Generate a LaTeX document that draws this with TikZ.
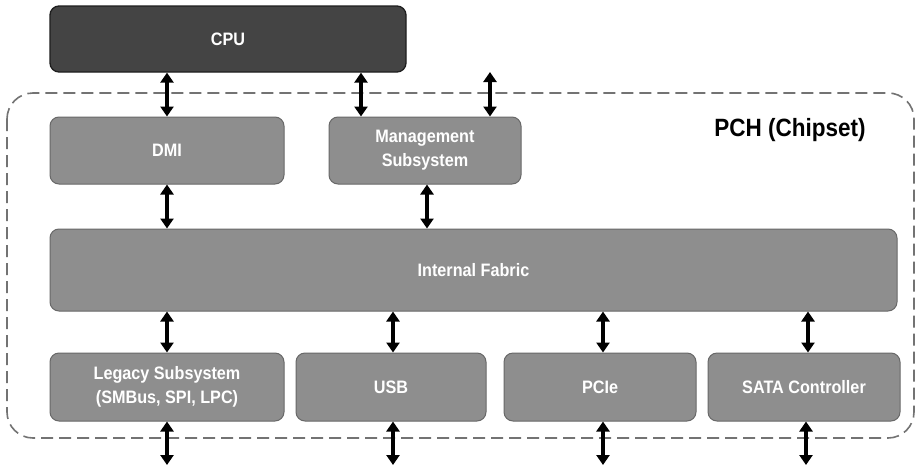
\documentclass[tikz,border=0pt]{standalone}
\usepackage{fontspec}
\setmainfont{Liberation Sans}[FakeStretch=0.9]
\usetikzlibrary{arrows.meta}
\definecolor{cpufill}{HTML}{444444}
\definecolor{cpuline}{HTML}{1E1E1E}
\definecolor{boxfill}{HTML}{8E8E8E}
\definecolor{boxline}{HTML}{686868}
\definecolor{dashcol}{HTML}{737373}
\tikzset{
  blk/.style={draw=boxline, line width=1pt, fill=boxfill, rounded corners=9pt,
    text=white, font=\bfseries\fontsize{18}{24}\selectfont, align=center, inner sep=0pt},
  cpublk/.style={blk, draw=cpuline, fill=cpufill, line width=1.3pt},
  biarrow/.style={line width=3.4pt, {Triangle[width=13pt,length=10pt]}-{Triangle[width=13pt,length=10pt]}},
  pchline/.style={draw=dashcol, line width=1.6pt, dash pattern=on 12pt off 6pt, rounded corners=26pt}
}
\begin{document}
\begin{tikzpicture}[x=1pt,y=-1pt]
\useasboundingbox (0,0) rectangle (920,466);
\fill[white] (0,0) rectangle (920,466);
% PCH boundary
\draw[pchline] (7,93) rectangle (914,438);
\node[font=\bfseries\fontsize{25}{29}\selectfont, anchor=center] (pch) at (790,130) {PCH (Chipset)};
% blocks
\node[cpublk, minimum width=356pt, minimum height=66pt] (cpu) at (228,39) {CPU};
\node[blk, minimum width=234pt, minimum height=67pt] (dmi) at (167,150.5) {DMI};
\node[blk, minimum width=192pt, minimum height=67pt] (mgmt) at (425,150.5) {Management\\Subsystem};
\node[blk, minimum width=847pt, minimum height=82pt] (fab) at (473.5,270) {Internal Fabric};
\node[blk, minimum width=234pt, minimum height=68pt] (leg) at (167,387) {Legacy Subsystem\\(SMBus, SPI, LPC)};
\node[blk, minimum width=190pt, minimum height=68pt] (usb) at (391,387) {USB};
\node[blk, minimum width=192pt, minimum height=68pt] (pcie) at (600,387) {PCIe};
\node[blk, minimum width=192pt, minimum height=68pt] (sata) at (804,387) {SATA Controller};
% free ends
\coordinate (mext) at (490,72);
\coordinate (lout) at (167,465);
\coordinate (uout) at (393,465);
\coordinate (pout) at (603,465);
\coordinate (sout) at (806,465);
% connectors
\draw[biarrow] (cpu.south -| dmi.north) -- (dmi.north);
\draw[biarrow] (cpu.south -| 361,0) -- (mgmt.north -| 361,0);
\draw[biarrow] (mext) -- (mgmt.north -| mext);
\draw[biarrow] (dmi.south) -- (fab.north -| dmi.south);
\draw[biarrow] (mgmt.south -| 427,0) -- (fab.north -| 427,0);
\draw[biarrow] (fab.south -| leg.north) -- (leg.north);
\draw[biarrow] (fab.south -| uout) -- (usb.north -| uout);
\draw[biarrow] (fab.south -| pout) -- (pcie.north -| pout);
\draw[biarrow] (fab.south -| 808,0) -- (sata.north -| 808,0);
\draw[biarrow] (leg.south -| lout) -- (lout);
\draw[biarrow] (usb.south -| uout) -- (uout);
\draw[biarrow] (pcie.south -| pout) -- (pout);
\draw[biarrow] (sata.south -| sout) -- (sout);
\end{tikzpicture}
\end{document}
